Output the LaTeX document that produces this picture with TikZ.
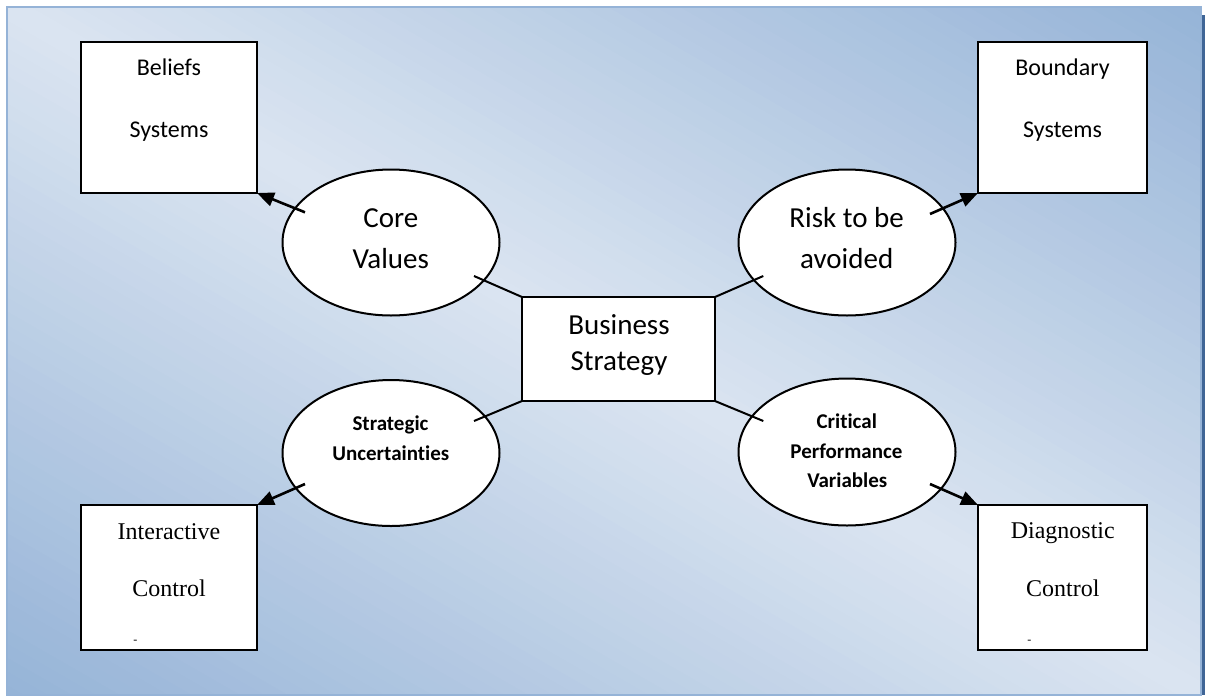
\documentclass[tikz,border=0pt]{standalone}
\usepackage{fontspec}
\usetikzlibrary{arrows.meta,shapes.geometric,calc}
\newfontfamily\calibri[Ligatures={NoCommon}]{Carlito}
\newfontfamily\timesnr{Liberation Serif}
\definecolor{bgdark}{HTML}{95B3D7}
\definecolor{bglight}{HTML}{DBE5F1}
\definecolor{shadowblue}{HTML}{3F6596}
\begin{document}
\begin{tikzpicture}[x=1pt,y=-1pt,
  boxnode/.style={draw=black, fill=white, line width=2pt, rectangle, inner sep=0pt, outer sep=0pt},
  ovalnode/.style={draw=black, fill=white, line width=2pt, ellipse, inner sep=0pt, outer sep=0pt},
  bigtxt/.style={font=\calibri\fontsize{29}{29}\selectfont, anchor=base, inner sep=0pt},
  sanstxt/.style={font=\calibri\fontsize{24}{24}\selectfont, anchor=base, inner sep=0pt},
  boldtxt/.style={font=\calibri\bfseries\fontsize{21}{21}\selectfont, anchor=base, inner sep=0pt},
  seriftxt/.style={font=\timesnr\fontsize{24}{24}\selectfont, anchor=base, inner sep=0pt},
  dashtxt/.style={font=\timesnr\fontsize{12}{12}\selectfont, anchor=base, inner sep=0pt},
  link/.style={line width=2pt, draw=black},
  arrowlink/.style={line width=2.6pt, draw=black, -{Triangle[length=17pt,width=14pt]}},
]
\useasboundingbox (0,0) rectangle (1208,697);

% background with diagonal gradient
\begin{scope}
\clip (7,7) rectangle (1201,695);
\foreach \i in {0,...,99} {
  \pgfmathsetmacro\sa{-600+12*\i}
  \pgfmathsetmacro\sb{\sa+13}
  \pgfmathtruncatemacro\pc{min(100,abs(\sa+6)/596*100)}
  \fill[bgdark!\pc!bglight]
    ({604-0.4993*\sa-623.9},{351+0.8665*\sa-359.5}) --
    ({604-0.4993*\sa+623.9},{351+0.8665*\sa+359.5}) --
    ({604-0.4993*\sb+623.9},{351+0.8665*\sb+359.5}) --
    ({604-0.4993*\sb-623.9},{351+0.8665*\sb-359.5}) -- cycle;
}
\end{scope}
\draw[bgdark, line width=1.5pt] (7,7) rectangle (1201,695);
\fill[shadowblue] (1201.75,15) rectangle (1204.5,695);

% boxes
\node[boxnode, minimum width=176pt, minimum height=151pt] (bel) at (169,117.5) {};
\node[boxnode, minimum width=169pt, minimum height=151pt] (bnd) at (1062.5,117.5) {};
\node[boxnode, minimum width=176pt, minimum height=145pt] (int) at (169,577.5) {};
\node[boxnode, minimum width=169pt, minimum height=145pt] (dia) at (1062.5,577.5) {};
\node[boxnode, minimum width=193pt, minimum height=104pt] (bs) at (618.5,349) {};

% ellipses
\node[ovalnode, minimum width=217pt, minimum height=146pt] (cv) at (391,242.5) {};
\node[ovalnode, minimum width=217pt, minimum height=146pt] (rk) at (847,242.5) {};
\node[ovalnode, minimum width=217pt, minimum height=146pt] (su) at (391,453) {};
\node[ovalnode, minimum width=217pt, minimum height=147pt] (cp) at (847,452) {};

% box texts
\node[sanstxt] (belt1) at (169,75) {Beliefs};
\node[sanstxt] (belt2) at (169,137) {Systems};
\node[sanstxt] (bndt1) at (1062.5,75) {Boundary};
\node[sanstxt] (bndt2) at (1062.5,137) {Systems};
\node[seriftxt] (intt1) at (169,539) {Interactive};
\node[seriftxt] (intt2) at (169,596.7) {Control};
\node[dashtxt] (intt3) at (135.3,643) {-};
\node[seriftxt] (diat1) at (1062.8,538.5) {Diagnostic};
\node[seriftxt] (diat2) at (1062.8,596.7) {Control};
\node[dashtxt] (diat3) at (1029.3,643) {-};
\node[bigtxt] (bst1) at (619,334.3) {Business};
\node[bigtxt] (bst2) at (619,370) {Strategy};

% ellipse texts
\node[bigtxt] (cvt1) at (390.8,227.3) {Core};
\node[bigtxt] (cvt2) at (390.8,268.3) {Values};
\node[bigtxt] (rkt1) at (846.7,227.3) {Risk to be};
\node[bigtxt] (rkt2) at (846.7,268.3) {avoided};
\node[boldtxt] (sut1) at (390.5,430) {Strategic};
\node[boldtxt] (sut2) at (390.8,460) {Uncertainties};
\node[boldtxt] (cpt1) at (846.7,428.3) {Critical};
\node[boldtxt] (cpt2) at (846.5,458.3) {Performance};
\node[boldtxt] (cpt3) at (847.3,487.7) {Variables};

% connector end points inside ellipses
\coordinate (cvL) at (474,276);
\coordinate (rkL) at (763.3,276);
\coordinate (suL) at (474,421);
\coordinate (cpL) at (763.3,421);
\coordinate (cvA) at (305,212.3);
\coordinate (rkA) at (930,214);
\coordinate (suA) at (305,484);
\coordinate (cpA) at (930,484);

% connectors
\draw[link] (bs.north west) -- (cvL);
\draw[link] (bs.north east) -- (rkL);
\draw[link] (bs.south west) -- (suL);
\draw[link] (bs.south east) -- (cpL);
\draw[arrowlink] (cvA) -- (bel.south east);
\draw[arrowlink] (rkA) -- (bnd.south west);
\draw[arrowlink] (suA) -- (int.north east);
\draw[arrowlink] (cpA) -- (dia.north west);
\end{tikzpicture}
\end{document}
